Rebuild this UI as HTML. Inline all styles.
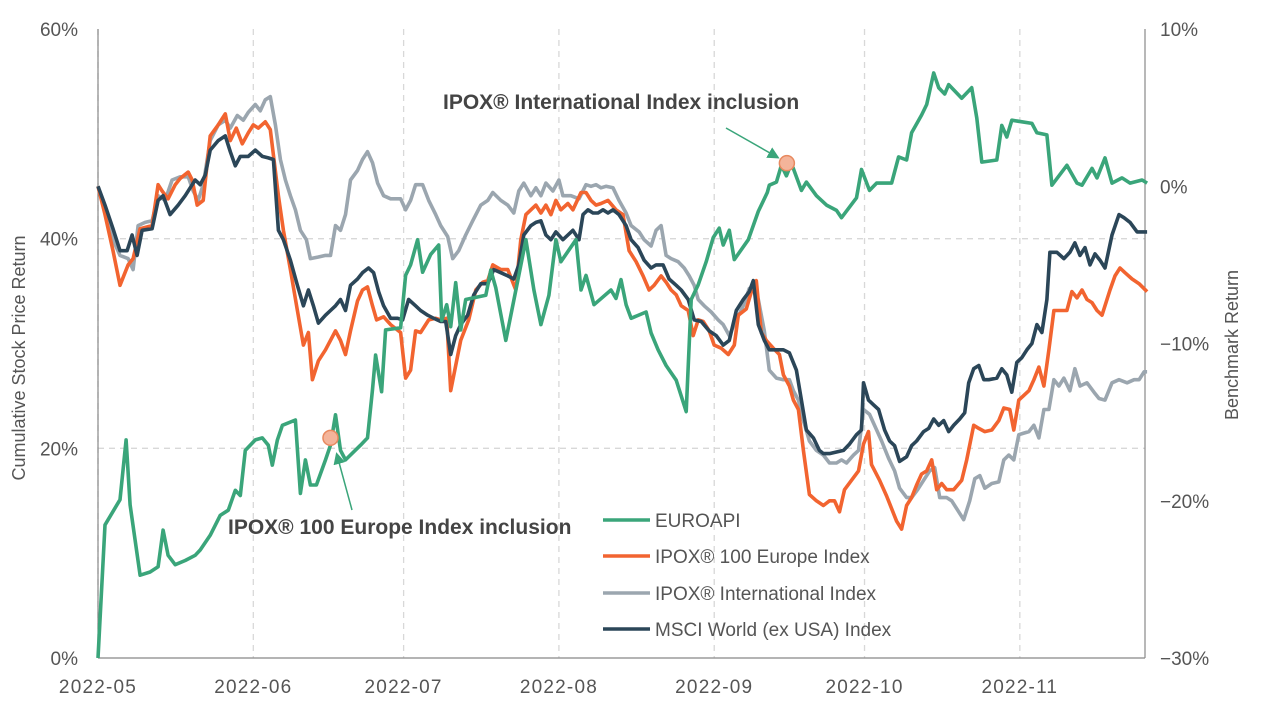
<!DOCTYPE html>
<html><head><meta charset="utf-8"><style>
body{margin:0;background:#fff;font-family:"Liberation Sans",sans-serif}
svg text{font-family:"Liberation Sans",sans-serif;fill:#555}
</style></head><body>
<svg id="chart" width="1261" height="712" viewBox="0 0 1261 712" xmlns="http://www.w3.org/2000/svg"></svg>
<script>
const monthLabels=["2022-05","2022-06","2022-07","2022-08","2022-09","2022-10","2022-11"];
const monthDays=[0,31,61,92,123,153,184];
const leftTicks=[0,20,40,60];
const rightTicks=[-30,-20,-10,0,10];
const seriesNames=["EUROAPI","IPOX® 100 Europe Index","IPOX® International Index","MSCI World (ex USA) Index"];
const euroapi=[[0,0],[1.4,12.7],[4.4,15.1],[5.6,20.8],[6.4,14.6],[8.4,7.9],[10.4,8.2],[12,8.7],[13,12.2],[14,9.8],[15.4,8.9],[17.4,9.3],[19.4,9.8],[20.4,10.3],[22.4,11.7],[24.4,13.6],[26,14.1],[27.4,16.0],[28.4,15.5],[29.4,19.8],[31.4,20.8],[32.8,21.0],[34,20.3],[34.8,18.4],[35.8,20.8],[36.8,22.2],[39.4,22.7],[40.4,15.7],[41.4,18.9],[42.4,16.5],[43.6,16.5],[45.4,18.9],[46.4,20.3],[47.4,23.2],[48.4,19.8],[49.4,18.9],[52.4,20.3],[53.8,21.0],[54.8,25.6],[55.4,28.9],[56.6,25.4],[57.4,31.3],[60.4,31.5],[61.4,36.5],[62.4,37.5],[63.8,39.9],[64.8,36.8],[66.4,38.5],[68,39.4],[68.6,32.2],[69.6,33.7],[70.4,31.6],[71.4,35.8],[72.4,31.3],[73.4,34.2],[77.4,34.6],[78.4,37.0],[79.4,35.3],[81.4,30.3],[84,36.5],[85.4,39.9],[87,35.1],[88.4,31.8],[90,34.6],[91.4,39.9],[92.4,37.8],[95.4,39.9],[96.4,35.1],[97.4,36.5],[99,33.7],[102.4,35.1],[103.4,34.3],[104.4,36.1],[105.4,33.7],[106.4,32.4],[109.4,33.0],[110.4,31.0],[111.8,29.4],[113.4,27.9],[115.4,26.5],[117.4,23.5],[118.4,34.2],[119.8,35.6],[121.4,37.8],[122.8,40.1],[124,41.0],[124.8,39.4],[126,40.8],[127,38.0],[129.8,39.9],[131.8,42.6],[133.6,44.4],[134,45.1],[135.4,45.4],[136.4,47.0],[137.4,46.0],[138.4,47.2],[140.4,44.6],[141.4,45.4],[143.4,44.1],[145.4,43.2],[147.4,42.7],[148.4,42.0],[151.4,43.9],[152.4,46.6],[154,44.6],[155.4,45.3],[158.4,45.3],[159.8,47.8],[161.4,47.5],[162.4,50.1],[164.4,51.8],[165.4,52.8],[166.8,55.8],[167.8,54.4],[169,53.8],[169.8,54.7],[172.4,53.4],[174.4,54.4],[175.4,51.5],[176.4,47.3],[179.4,47.5],[180.4,50.8],[181.4,49.7],[182.4,51.3],[186.4,51.0],[187.4,50.1],[189.4,49.9],[190.4,45.1],[193.4,47.0],[195.4,45.3],[196.4,45.1],[198.4,46.7],[199.4,45.8],[201,47.7],[202.4,45.3],[204.4,45.8],[206,45.3],[208.4,45.6],[209.4,45.3]];
const ipoxEurope=[[0,0],[1.4,-1.8],[3,-4.1],[4.4,-6.3],[6,-5.0],[7,-4.6],[8.4,-2.7],[10.8,-2.5],[12,0.1],[12.8,-0.3],[14,-0.8],[15.4,0.1],[16.4,0.5],[18,0.9],[18.8,0.4],[19.8,-1.2],[21,-0.9],[22.4,3.2],[24,3.9],[25.4,4.6],[26.4,2.9],[27.6,3.7],[28.8,2.7],[30,3.4],[31,3.9],[32,3.7],[33.4,4.1],[34.4,3.6],[36,-0.6],[37,-2.8],[38.4,-5.3],[39.8,-7.9],[41,-10.1],[42,-9.3],[42.8,-12.3],[44,-11.1],[45.4,-10.4],[47.4,-9.2],[48.4,-9.8],[49.4,-10.7],[50.4,-9.2],[51.8,-7.3],[52.8,-6.6],[53.8,-6.4],[54.8,-7.6],[55.6,-8.5],[57,-8.3],[58.4,-8.8],[60.4,-9.3],[61.4,-12.2],[62.4,-11.7],[63.4,-9.2],[64.4,-9.3],[66,-8.5],[67.4,-8.4],[68.4,-8.5],[69.6,-8.4],[70.4,-13.0],[71.4,-11.4],[72.4,-9.8],[74,-8.5],[75.4,-6.6],[76.8,-6.1],[77.8,-6.0],[78.8,-5.0],[80.4,-5.3],[81.8,-5.3],[83.4,-6.6],[84.4,-3.4],[85.4,-1.8],[86.4,-1.5],[87.4,-1.2],[88.4,-1.7],[89.4,-1.2],[90.4,-1.8],[91.4,-0.9],[92.4,-1.5],[93.8,-1.1],[94.8,-1.5],[96.4,-0.4],[97.4,-0.4],[98.4,-0.9],[99.4,-1.2],[100.4,-1.1],[101.8,-0.9],[103.4,-1.5],[104.8,-1.8],[106,-4.1],[107.4,-4.8],[108.8,-5.7],[110,-6.6],[111,-6.3],[112.4,-5.7],[113.4,-6.1],[114.4,-6.6],[115.4,-6.9],[116.4,-7.6],[117.8,-7.9],[118.8,-9.5],[119.8,-8.5],[120.8,-8.6],[122,-9.2],[123,-10.1],[124.4,-10.3],[125.8,-10.7],[127,-10.1],[127.8,-8.2],[129.4,-7.8],[130.8,-6.3],[131.4,-6.0],[132.4,-9.3],[133.4,-9.8],[134.8,-10.3],[136,-10.7],[136.8,-12.0],[138,-12.7],[138.8,-13.6],[139.8,-14.2],[140.8,-16.8],[142,-19.6],[143.4,-20.0],[144.8,-20.3],[146,-20.0],[147,-20.0],[148,-20.7],[149,-19.3],[150.4,-18.7],[151.8,-18.1],[152.8,-16.4],[153.8,-15.6],[154.4,-17.7],[156,-18.7],[157.4,-19.7],[158.4,-20.5],[159.4,-21.3],[160.4,-21.8],[161.4,-20.3],[162.4,-19.8],[163.4,-19.0],[164.4,-18.3],[165.4,-18.1],[166.4,-17.4],[167.4,-19.3],[168.4,-18.9],[169.4,-19.3],[170.8,-19.3],[172.4,-18.7],[173.4,-17.4],[174.8,-15.2],[175.8,-15.4],[177,-15.6],[178.4,-15.5],[179.8,-14.9],[180.8,-14.1],[182,-14.2],[182.8,-15.5],[183.8,-13.6],[184.8,-13.3],[185.8,-13.0],[186.8,-12.3],[187.8,-11.5],[188.8,-12.7],[189.8,-10.4],[190.8,-7.9],[191.8,-7.9],[193.4,-7.9],[194.4,-6.7],[195.4,-7.1],[196.4,-6.6],[197.4,-7.2],[198.4,-7.4],[199.4,-7.9],[200.4,-8.2],[202,-6.6],[203,-5.7],[204,-5.2],[205,-5.5],[206.4,-5.9],[207.8,-6.2],[209.4,-6.7]];
const ipoxIntl=[[0,0],[1.4,-1.5],[3,-3.4],[4.4,-4.4],[6,-4.6],[7,-5.3],[8,-2.5],[9.4,-2.3],[10.8,-2.2],[12,-0.6],[13.4,-0.9],[14.8,0.4],[16.4,0.6],[18,0.6],[19,-0.3],[20,-0.9],[21,0.1],[22.4,2.9],[24,3.9],[25.4,4.2],[26.4,3.7],[27.8,4.5],[29,4.2],[30,4.7],[31.4,5.2],[32.4,4.8],[33.4,5.5],[34.4,5.7],[35.4,3.9],[36.4,1.7],[37.4,0.4],[38.4,-0.6],[39.4,-1.5],[40.4,-2.8],[41.6,-3.4],[42.4,-4.6],[44,-4.5],[45.4,-4.4],[46.4,-4.4],[47.4,-2.5],[48.4,-2.8],[49.4,-1.8],[50.4,0.4],[51.8,1.0],[52.8,1.7],[53.8,2.2],[54.8,1.5],[55.8,0.2],[57,-0.6],[58.4,-0.8],[60.4,-0.8],[61.4,-1.5],[62.4,-0.9],[63.4,0.1],[64.8,0.1],[66,-0.9],[67.4,-1.8],[68.4,-2.5],[69.8,-3.2],[70.8,-4.6],[72,-4.1],[73.4,-3.1],[74.8,-2.2],[76.4,-1.2],[77.8,-0.9],[78.8,-0.4],[80.4,-0.9],[81.8,-1.2],[83,-1.7],[84,-0.3],[85,0.2],[86.4,-0.6],[87.4,-0.1],[88.4,-0.6],[89.4,0.2],[90.8,-0.3],[92,0.4],[92.8,-0.6],[94.4,-0.6],[96,-0.8],[97.4,0.1],[98.4,0],[99.4,0.1],[100.4,-0.1],[101.4,0],[102.8,-0.1],[104,-0.9],[105.4,-1.7],[106.4,-2.5],[108,-2.9],[109,-3.4],[110.4,-3.8],[111.4,-2.8],[112.4,-2.5],[113.4,-4.4],[114.4,-4.6],[115.8,-4.8],[117,-5.2],[118,-5.7],[119,-6.3],[119.8,-7.2],[121,-7.6],[122.4,-8.0],[123.8,-8.5],[124.8,-8.8],[126,-9.5],[127.4,-8.5],[128.8,-7.6],[130,-6.5],[130.8,-6.6],[131.8,-7.2],[133,-9.2],[134,-11.7],[135.4,-12.2],[136.8,-12.3],[138,-12.3],[138.8,-13.0],[139.8,-13.6],[140.8,-14.9],[142,-16.2],[143.4,-16.8],[144.8,-17.1],[146,-17.6],[147.4,-17.6],[148.4,-17.4],[149.4,-17.6],[150.8,-17.1],[151.8,-16.8],[152.8,-14.2],[154,-14.5],[155,-15.2],[156.4,-16.2],[157.8,-17.3],[159,-18.1],[160,-19.2],[161.4,-19.8],[162.4,-19.8],[163.6,-19.3],[164.8,-18.7],[166,-18.1],[167,-17.9],[168,-19.8],[169.4,-19.8],[170.4,-20.0],[171.8,-20.7],[172.8,-21.2],[174,-20.0],[175,-18.6],[176,-18.4],[177,-19.2],[178.4,-18.9],[179.8,-18.8],[180.8,-17.4],[181.8,-17.1],[182.8,-17.4],[183.8,-15.8],[184.8,-15.7],[185.8,-15.6],[186.8,-15.2],[187.8,-16.0],[188.8,-14.2],[189.8,-14.2],[190.8,-12.3],[191.8,-12.7],[192.8,-12.2],[194,-13.0],[195,-11.6],[196,-12.7],[197.4,-12.5],[198.8,-13.1],[199.8,-13.5],[201,-13.6],[202.4,-12.5],[203.8,-12.3],[205.4,-12.5],[206.8,-12.3],[207.8,-12.3],[208.8,-11.8],[209.4,-11.8]];
const msciWorld=[[0,0],[1.4,-1.2],[3,-2.7],[4.4,-4.1],[5.8,-4.1],[6.8,-3.1],[7.8,-4.4],[8.8,-2.8],[10.8,-2.7],[12,-0.9],[13,-0.6],[14.4,-1.8],[16,-1.2],[17.4,-0.6],[18.4,-0.1],[19.4,0.4],[20.4,0.1],[21.4,0.7],[22.4,2.3],[24,2.9],[25.4,3.2],[26.4,2.2],[27.4,1.3],[28.4,1.9],[30,1.9],[31.4,2.3],[32.8,1.9],[34,1.8],[35,1.7],[36,-2.8],[37,-3.4],[38.4,-4.7],[39.8,-6.3],[41,-7.6],[42,-6.6],[43,-7.6],[44,-8.7],[45.4,-8.2],[46.4,-7.9],[47.4,-7.6],[48.4,-7.2],[49.4,-7.9],[50.4,-6.3],[51.8,-5.9],[52.8,-5.5],[54,-5.2],[55,-5.5],[56,-6.7],[57,-7.6],[58.4,-8.4],[59.8,-8.4],[60.8,-8.5],[62,-7.2],[63.4,-7.6],[64.4,-7.9],[65.8,-8.2],[67,-8.4],[68.4,-8.6],[69.4,-8.6],[70.4,-10.7],[71.4,-9.5],[72.4,-8.8],[73.8,-8.2],[75,-6.9],[76.4,-6.2],[77.8,-6.2],[79,-5.3],[80.4,-5.5],[81.8,-5.7],[83,-5.9],[84,-5.0],[85,-3.1],[86.4,-2.5],[87.4,-2.3],[88.4,-2.2],[89.4,-3.1],[90.4,-3.4],[91.4,-2.9],[92.8,-3.4],[93.8,-3.1],[94.8,-2.8],[96,-3.4],[96.8,-1.8],[97.8,-1.5],[98.8,-1.7],[99.8,-1.7],[100.8,-1.5],[101.8,-1.7],[102.8,-1.5],[104,-1.8],[105.4,-2.5],[106.4,-3.4],[107.8,-3.9],[109,-4.7],[110.4,-5.2],[111.4,-5.0],[112.8,-5.0],[114,-5.9],[115.4,-6.3],[116.4,-6.6],[117.8,-7.2],[119,-8.5],[120.4,-8.6],[122,-9.2],[123.4,-9.5],[124.8,-10.1],[126,-9.8],[127.4,-7.9],[128.8,-7.2],[130,-6.7],[130.8,-6.0],[131.8,-8.8],[133,-9.8],[134,-10.4],[135.4,-10.4],[136.8,-10.4],[138,-10.6],[139.4,-11.7],[140.4,-13.6],[141.4,-15.5],[142.8,-16.0],[144,-16.8],[144.8,-17.0],[146,-17.0],[147.4,-16.9],[148.8,-16.8],[150,-16.4],[151.4,-15.8],[152.4,-15.5],[152.8,-12.5],[153.8,-13.6],[154.8,-13.9],[155.8,-14.2],[157,-15.5],[158,-16.2],[159,-16.5],[160,-17.5],[161.4,-17.2],[162.4,-16.5],[163.4,-16.2],[164.8,-15.6],[165.8,-15.4],[166.8,-14.8],[167.8,-15.2],[168.8,-14.9],[169.8,-15.6],[170.8,-15.2],[172,-14.8],[173,-14.4],[173.8,-12.5],[174.8,-11.6],[175.8,-11.4],[176.8,-12.3],[177.8,-12.3],[179.4,-12.2],[180.4,-11.6],[181.4,-12.0],[182.4,-13.1],[183.4,-11.2],[184.4,-10.9],[185.4,-10.4],[186.4,-10.0],[187.4,-8.8],[188.4,-9.3],[189.4,-7.2],[190,-4.2],[191.4,-4.2],[192.8,-4.6],[194,-4.2],[195,-3.6],[196,-4.4],[197,-3.9],[198,-5.0],[199,-4.3],[200,-4.7],[201,-5.2],[202.4,-3.1],[203.8,-1.8],[204.8,-2.0],[206,-2.3],[207.4,-2.9],[209.4,-2.9]];

const NS="http://www.w3.org/2000/svg";
const svg=document.getElementById('chart');
const X0=98,X1=1145,YT=29,YB=658;
function xScale(d){return X0+d*5.01;}
function yLeft(v){return YB-(v/60)*(YB-YT);}
function yRight(v){return YB-((v+30)/40)*(YB-YT);}
function mk(tag,attrs,parent){const e=document.createElementNS(NS,tag);for(const k in attrs)e.setAttribute(k,attrs[k]);(parent||svg).appendChild(e);return e;}

monthDays.forEach((d,i)=>{
  const g=mk('line',{x1:xScale(d),x2:xScale(d),y1:YT,y2:YB,stroke:'#d8d8d8','stroke-width':1.3,'stroke-dasharray':'6,5'});
  
  
  const t=mk('text',{x:xScale(d),y:693,'text-anchor':'middle','font-size':19,'letter-spacing':1.2});
  t.textContent=monthLabels[i];
  
  
});
leftTicks.forEach(v=>{
  if(v>0&&v<60){const g=mk('line',{x1:X0,x2:X1,y1:yLeft(v),y2:yLeft(v),stroke:'#d8d8d8','stroke-width':1.3,'stroke-dasharray':'6,5'});
  
  }
  const t=mk('text',{x:78,y:yLeft(v)+7,'text-anchor':'end','font-size':19});
  t.textContent=v+'%';
  
  
});
rightTicks.forEach(v=>{
  const t=mk('text',{x:1160,y:yRight(v)+7,'text-anchor':'start','font-size':19});
  t.textContent=(v<0?'−':'')+Math.abs(v)+'%';
  
  
});
[[X0,YT,X0,YB],[X0,YB,X1,YB],[X1,YT,X1,YB]].forEach(a=>{
  const l=mk('line',{x1:a[0],y1:a[1],x2:a[2],y2:a[3],stroke:'#888','stroke-width':1.2});
  
  
});
const yt1=mk('text',{x:0,y:0,'font-size':18,'text-anchor':'middle',transform:'translate(25,358) rotate(-90)'});
yt1.textContent='Cumulative Stock Price Return';


const yt2=mk('text',{x:0,y:0,'font-size':18,'text-anchor':'middle',transform:'translate(1238,345) rotate(-90)'});
yt2.textContent='Benchmark Return';



const colors=['#3aa57a','#f26430','#9ba6af','#2b4658'];
function drawLine(data,yf,color,name){
  const p=mk('polyline',{points:data.map(d=>xScale(d[0]).toFixed(1)+','+yf(d[1]).toFixed(1)).join(' '),fill:'none',stroke:color,'stroke-width':3.6,'stroke-linejoin':'round'});
  
  
}
drawLine(ipoxIntl,yRight,colors[2],'ipox-international-line');
drawLine(ipoxEurope,yRight,colors[1],'ipox-100-europe-line');
drawLine(msciWorld,yRight,colors[3],'msci-world-line');
drawLine(euroapi,yLeft,colors[0],'euroapi-line');

const annDays=[46.4,137.5];
const annVals=[21,47.2];
const annText=['IPOX® 100 Europe Index inclusion','IPOX® International Index inclusion'];
mk('defs',{}).innerHTML='<marker id="ah" markerWidth="8" markerHeight="8" refX="6" refY="4" orient="auto"><path d="M0,0 L8,4 L0,8 z" fill="#3aa57a"/></marker>';
const a1=mk('line',{x1:352,y1:510,x2:337,y2:455,stroke:'#3aa57a','stroke-width':1.5,'marker-end':'url(#ah)'});


const a2=mk('line',{x1:726,y1:128,x2:777,y2:157,stroke:'#3aa57a','stroke-width':1.5,'marker-end':'url(#ah)'});


annDays.forEach((d,i)=>{
  const c=mk('circle',{cx:xScale(d),cy:yLeft(annVals[i]),r:7.5,fill:'#f4b49a',stroke:'#e8895f','stroke-width':1.5});
  
  
});
const t1=mk('text',{x:228,y:534,'font-size':21,'font-weight':'bold',style:'fill:#444'});
t1.textContent=annText[0];


const t2=mk('text',{x:443,y:109,'font-size':21,'font-weight':'bold',style:'fill:#444'});
t2.textContent=annText[1];



const legY=[520,556,593,629];
seriesNames.forEach((n,i)=>{
  const g=mk('g',{});
  
  
  mk('line',{x1:603,x2:650,y1:legY[i],y2:legY[i],stroke:colors[i],'stroke-width':3.6},g);
  const t=mk('text',{x:655,y:legY[i]+7,'font-size':19},g);
  t.textContent=n;
});
</script>
</body></html>
